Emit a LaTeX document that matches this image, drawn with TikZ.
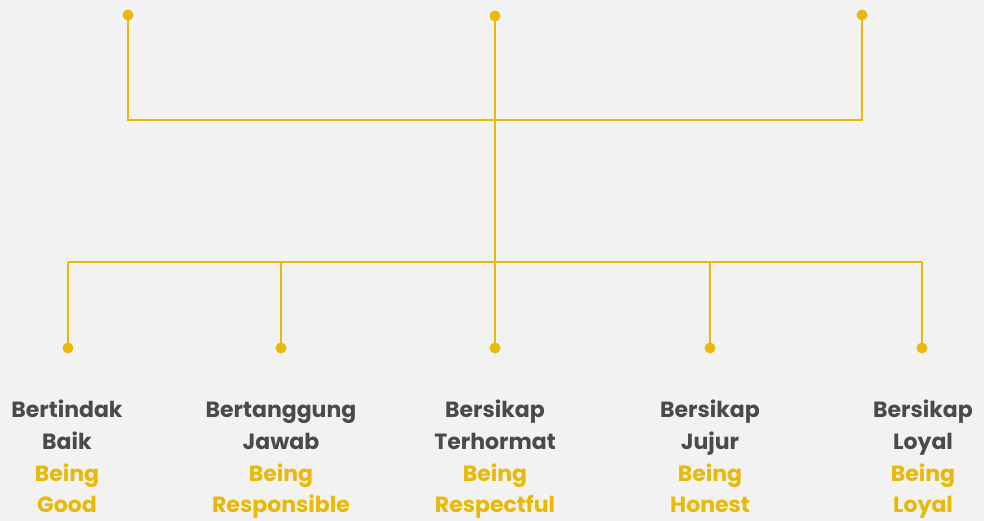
\documentclass[tikz,border=0pt]{standalone}
\usepackage{fontspec}
\setmainfont{Poppins}
\definecolor{bgc}{HTML}{F1F2F1}
\definecolor{ylw}{HTML}{EAB905}
\definecolor{dgr}{HTML}{4A4A4A}
\begin{document}
\begin{tikzpicture}[x=1pt,y=-1pt,
  conn/.style={draw=ylw,line width=2.8pt},
  dot/.style={circle,fill=ylw,inner sep=0pt,minimum size=11pt},
  lbl/.style={anchor=base,font=\fontsize{22}{26}\selectfont\bfseries,text=dgr,inner sep=0pt},
  ylbl/.style={lbl,text=ylw}]
\fill[bgc] (0,0) rectangle (984,521);
\useasboundingbox (0,0) rectangle (984,521);
% top dots
\node[dot] (t1) at (128,15) {};
\node[dot] (t2) at (495,16) {};
\node[dot] (t3) at (862,15) {};
\coordinate (b1) at (128,120);
\coordinate (b3) at (862,120);
\coordinate (m) at (495,262);
\coordinate (l1) at (68,262);
\coordinate (l2) at (281,262);
\coordinate (l4) at (710,262);
\coordinate (l5) at (922,262);
\node[dot] (d1) at (68,348) {};
\node[dot] (d2) at (281,348) {};
\node[dot] (d3) at (495,348) {};
\node[dot] (d4) at (710,348) {};
\node[dot] (d5) at (922,348) {};
\draw[conn] (t1.center) -- (b1) -- (b3) -- (t3.center);
\draw[conn] (t2.center) -- (m);
\draw[conn] (l1) -- (l5);
\draw[conn] (l1) -- (d1.center);
\draw[conn] (l2) -- (d2.center);
\draw[conn] (m) -- (d3.center);
\draw[conn] (l4) -- (d4.center);
\draw[conn] (l5) -- (d5.center);
% labels
\node[lbl] (a1) at (67,417) {Bertindak};
\node[lbl] (a2) at (67,449) {Baik};
\node[ylbl] (a3) at (67,481) {Being};
\node[ylbl] (a4) at (67,512) {Good};
\node[lbl] (b1t) at (281,417) {Bertanggung};
\node[lbl] (b2t) at (281,449) {Jawab};
\node[ylbl] (b3t) at (281,481) {Being};
\node[ylbl] (b4t) at (281,512) {Responsible};
\node[lbl] (c1) at (495,417) {Bersikap};
\node[lbl] (c2) at (495,449) {Terhormat};
\node[ylbl] (c3) at (495,481) {Being};
\node[ylbl] (c4) at (495,512) {Respectful};
\node[lbl] (e1) at (710,417) {Bersikap};
\node[lbl] (e2) at (710,449) {Jujur};
\node[ylbl] (e3) at (710,481) {Being};
\node[ylbl] (e4) at (710,512) {Honest};
\node[lbl] (f1) at (923,417) {Bersikap};
\node[lbl] (f2) at (923,449) {Loyal};
\node[ylbl] (f3) at (923,481) {Being};
\node[ylbl] (f4) at (923,512) {Loyal};
\end{tikzpicture}
\end{document}
